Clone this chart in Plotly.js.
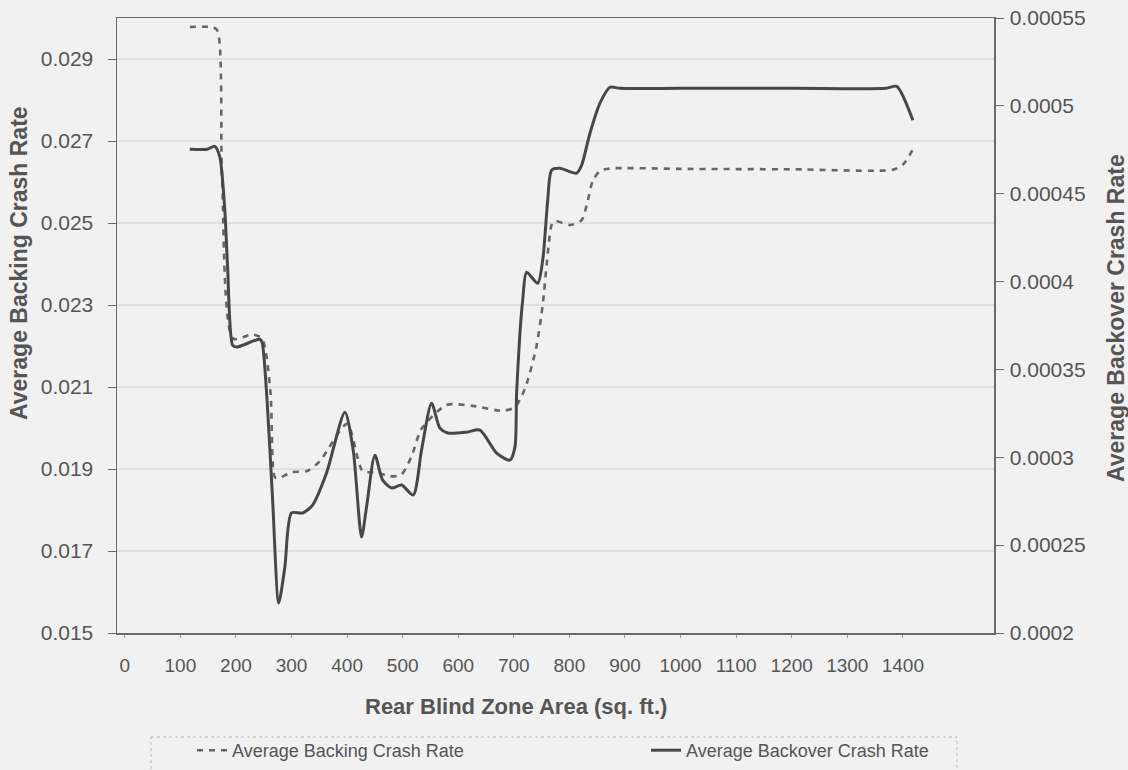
<!DOCTYPE html>
<html>
<head>
<meta charset="utf-8">
<script src="https://cdn.plot.ly/plotly-3.0.1.min.js"></script>
<style>
  html, body { margin: 0; padding: 0; background: #f1f1f1; }
  #chart { width: 1128px; height: 770px; }
</style>
</head>
<body>
<div id="chart"></div>
<script>
// Rear blind zone area (sq. ft.) for each series
const backingX = [117, 153, 166, 175, 195, 229, 247, 262, 270, 277, 300, 328, 351, 400, 428, 453, 477, 498, 516, 534, 579, 626, 680, 702, 720, 740, 752, 759, 768, 774, 801, 822, 833, 842, 855, 873, 1000, 1200, 1382, 1400, 1422];
// Average Backing Crash Rate (left axis)
const backingY = [0.02978, 0.02978, 0.02971, 0.0261, 0.02218, 0.02228, 0.02218, 0.0209, 0.0188, 0.01878, 0.01892, 0.01895, 0.01919, 0.0201, 0.01895, 0.01892, 0.01882, 0.01887, 0.01931, 0.01998, 0.02056, 0.02054, 0.02042, 0.02051, 0.02096, 0.02194, 0.02301, 0.02397, 0.02495, 0.02505, 0.02495, 0.02507, 0.02554, 0.02603, 0.02627, 0.02633, 0.02632, 0.02631, 0.0263, 0.02642, 0.02689];

const backoverX = [117, 148, 162, 171, 180, 185, 194, 201, 243, 247, 256, 266, 277, 288, 300, 320, 338, 363, 396, 411, 426, 435, 450, 464, 480, 498, 519, 534, 552, 567, 581, 615, 639, 669, 693, 702, 705, 711, 716, 723, 743, 752, 761, 768, 783, 813, 822, 837, 855, 873, 891, 1000, 1200, 1370, 1389, 1418];
// Average Backover Crash Rate (right axis)
const backoverY = [0.0004753, 0.0004753, 0.000477, 0.000471, 0.0004406, 0.0004082, 0.0003638, 0.0003627, 0.0003672, 0.0003655, 0.0003325, 0.0002757, 0.0002171, 0.0002375, 0.0002683, 0.0002683, 0.0002728, 0.000291, 0.0003257, 0.0003041, 0.0002546, 0.0002717, 0.0003012, 0.000287, 0.0002825, 0.0002842, 0.0002785, 0.0003041, 0.0003308, 0.0003166, 0.0003138, 0.0003143, 0.0003155, 0.0003024, 0.0002984, 0.0003058, 0.0003365, 0.0003706, 0.0003894, 0.0004053, 0.000399, 0.0004122, 0.0004463, 0.0004634, 0.0004645, 0.0004617, 0.0004662, 0.0004844, 0.0005015, 0.0005106, 0.00051, 0.00051, 0.00051, 0.00051, 0.0005111, 0.0004918];

const xTickVals = [0, 100, 200, 300, 400, 500, 600, 700, 800, 900, 1000, 1100, 1200, 1300, 1400];
const leftTickVals = [0.015, 0.017, 0.019, 0.021, 0.023, 0.025, 0.027, 0.029];
const leftTickText = ["0.015", "0.017", "0.019", "0.021", "0.023", "0.025", "0.027", "0.029"];
const rightTickVals = [0.0002, 0.00025, 0.0003, 0.00035, 0.0004, 0.00045, 0.0005, 0.00055];
const rightTickText = ["0.0002", "0.00025", "0.0003", "0.00035", "0.0004", "0.00045", "0.0005", "0.00055"];

const seriesNames = ["Average Backing Crash Rate", "Average Backover Crash Rate"];
const titles = {
  x: "Rear Blind Zone Area (sq. ft.)",
  yLeft: "Average Backing Crash Rate",
  yRight: "Average Backover Crash Rate"
};

const FONT = "Liberation Sans, Arial, sans-serif";
const TXT = "#555555";
const AX = "#6a6a6a";
const L = 117, R = 994, T = 18, B = 633;
const PW = R - L, PH = B - T;
const px = v => (v - L) / PW;
const py = v => (B - v) / PH;

const traces = [
  {
    x: backingX, y: backingY, name: seriesNames[0], type: "scatter", mode: "lines",
    line: { color: "#666666", width: 2.6, dash: "6px,6px", shape: "spline", smoothing: 0.7 },
    yaxis: "y", legend: "legend"
  },
  {
    x: backoverX, y: backoverY, name: seriesNames[1], type: "scatter", mode: "lines",
    line: { color: "#474747", width: 3, shape: "spline", smoothing: 0.7 },
    yaxis: "y2", legend: "legend2"
  }
];

const legendBase = {
  orientation: "h", xanchor: "left", y: py(732), yanchor: "top",
  bgcolor: "rgba(0,0,0,0)", borderwidth: 0,
  font: { family: FONT, size: 18, color: TXT }
};

const layout = {
  width: 1128, height: 770,
  margin: { l: L, r: 1128 - R, t: T, b: 770 - B, autoexpand: false },
  paper_bgcolor: "#f1f1f1",
  plot_bgcolor: "#f1f1f1",
  font: { family: FONT, size: 18, color: TXT },
  showlegend: true,
  legend: Object.assign({}, legendBase, { x: px(192) }),
  legend2: Object.assign({}, legendBase, { x: px(646) }),
  xaxis: {
    range: [-14, 1564], tickmode: "array", tickvals: xTickVals,
    ticks: "outside", ticklen: 3, tickcolor: "#999", ticklabelstandoff: 12,
    showline: true, linecolor: AX, linewidth: 1.5, mirror: true,
    showgrid: false, zeroline: false, automargin: false,
    tickfont: { family: FONT, size: 19, color: TXT }
  },
  yaxis: {
    range: [0.015, 0.030], tickmode: "array", tickvals: leftTickVals, ticktext: leftTickText,
    ticks: "outside", ticklen: 8, tickcolor: AX, ticklabelstandoff: 10,
    showline: true, linecolor: AX, linewidth: 1.5, automargin: false,
    showgrid: true, gridcolor: "#e0e0e0", gridwidth: 1.5, zeroline: false,
    tickfont: { family: FONT, size: 21, color: TXT }
  },
  yaxis2: {
    range: [0.0002, 0.00055], tickmode: "array", tickvals: rightTickVals, ticktext: rightTickText,
    overlaying: "y", side: "right", automargin: false,
    ticks: "outside", ticklen: 8, tickcolor: AX, ticklabelstandoff: 2,
    showline: true, linecolor: AX, linewidth: 1.5,
    showgrid: false, zeroline: false,
    tickfont: { family: FONT, size: 21, color: TXT }
  },
  shapes: [
    { type: "rect", xref: "paper", yref: "paper",
      x0: px(151), x1: px(957), y0: py(737), y1: py(790),
      line: { color: "#b8b8b8", width: 1, dash: "dot" }, fillcolor: "rgba(0,0,0,0)", layer: "above" }
  ],
  annotations: [
    { text: "<b>" + titles.x + "</b>", xref: "paper", yref: "paper",
      x: px(516), y: py(706), xanchor: "center", yanchor: "middle",
      showarrow: false, font: { family: FONT, size: 22, color: TXT } },
    { text: "<b>" + titles.yLeft + "</b>", xref: "paper", yref: "paper",
      x: px(19), y: py(263), xanchor: "center", yanchor: "middle",
      textangle: -90, showarrow: false, font: { family: FONT, size: 23, color: TXT } },
    { text: "<b>" + titles.yRight + "</b>", xref: "paper", yref: "paper",
      x: px(1116), y: py(318), xanchor: "center", yanchor: "middle",
      textangle: -90, showarrow: false, font: { family: FONT, size: 23, color: TXT } }
  ]
};

Plotly.newPlot("chart", traces, layout, { displayModeBar: false, staticPlot: true });
</script>
</body>
</html>
